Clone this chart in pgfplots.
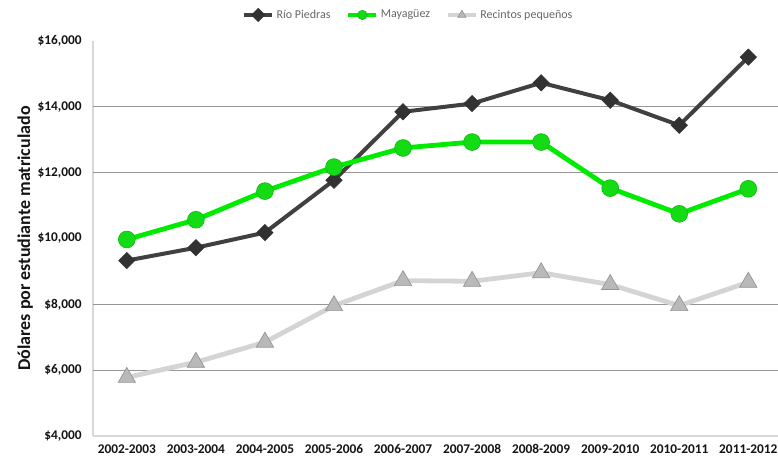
\documentclass[border=0pt]{standalone}
\usepackage{fontspec}
\setmainfont{Carlito}
\usepackage{pgfplots}
\pgfplotsset{compat=1.18}
\usetikzlibrary{calc}
\definecolor{RP}{RGB}{64,64,64}
\definecolor{RPm}{RGB}{50,50,50}
\definecolor{MY}{RGB}{0,235,0}
\definecolor{MYm}{RGB}{20,220,20}
\definecolor{RC}{RGB}{212,212,212}
\definecolor{RCm}{RGB}{185,185,185}
\definecolor{GR}{RGB}{150,150,150}
\definecolor{AX}{RGB}{215,215,215}
\definecolor{TX}{RGB}{20,20,20}

\begin{document}
\begin{tikzpicture}
\begin{axis}[
  scale only axis,
  width=513.75pt, height=296.25pt,
  xmin=-0.49, xmax=9.43,
  ymin=4000, ymax=16000,
  scaled y ticks=false,
  axis x line*=bottom, axis y line*=left,
  axis line style={draw=AX, line width=1.2pt},
  xtick={0,...,9},
  xticklabels={2002-2003,2003-2004,2004-2005,2005-2006,2006-2007,2007-2008,2008-2009,2009-2010,2010-2011,2011-2012},
  x tick style={draw=none},
  x tick label style={font=\bfseries\fontsize{10}{12}\selectfont, color=TX, yshift=-3pt},
  extra x ticks={-0.5,0.5,1.5,2.5,3.5,4.5,5.5,6.5,7.5,8.5},
  extra x tick labels={},
  extra x tick style={tick align=outside, major tick length=5pt, tick style={draw=AX, line width=0.8pt}},
  ytick={4000,6000,8000,10000,12000,14000,16000},
  yticklabels={{\$4,000},{\$6,000},{\$8,000},{\$10,000},{\$12,000},{\$14,000},{\$16,000}},
  y tick style={draw=none},
  y tick label style={font=\bfseries\fontsize{10}{12}\selectfont, color=TX, xshift=-5pt},
  extra y ticks={6000,8000,12000,14000},
  extra y tick labels={},
  extra y tick style={grid=major, tick align=outside, major tick length=3pt, tick style={draw=GR, line width=0.8pt}},
  major grid style={draw=GR, line width=0.8pt},
  ylabel={Dólares por estudiante matriculado},
  ylabel style={font=\bfseries\fontsize{13.5}{15}\selectfont, color=TX, at={(axis description cs:-0.099,0.5)}, anchor=center},
  legend columns=3,
  legend style={draw=none, fill=none, at={(0.461,1.066)}, anchor=center,
    font=\fontsize{9}{11}\selectfont, text=RP!80,
    /tikz/every even column/.append style={column sep=10pt}},
  legend image code/.code={\draw[mark repeat=2, mark phase=2, #1, line width=2.6pt, mark size=3.5pt] plot coordinates {(0cm,0cm)(0.37cm,0cm)(0.74cm,0cm)};},
  clip=false,
]
\addplot[draw=RP, line width=3pt, mark=square*, mark size=4.3pt,
  mark options={fill=RPm, draw=RPm, rotate=45, line width=0.5pt}]
  coordinates {(0,9330)(1,9720)(2,10180)(3,11770)(4,13850)(5,14100)(6,14730)(7,14200)(8,13440)(9,15510)};
\addlegendentry{Río Piedras}
\addplot[draw=MY, line width=3.6pt, mark=*, mark size=6.3pt,
  mark options={fill=MYm, draw=MYm!85!black, line width=0.5pt}]
  coordinates {(0,9970)(1,10570)(2,11440)(3,12170)(4,12750)(5,12930)(6,12930)(7,11530)(8,10750)(9,11510)};
\addlegendentry{Mayagüez}
\addplot[draw=RC, line width=3.6pt, mark=triangle*, mark size=7.5pt,
  mark options={fill=RCm, draw=RCm!80!black, line width=0.5pt}]
  coordinates {(0,5780)(1,6240)(2,6850)(3,7960)(4,8720)(5,8700)(6,8960)(7,8600)(8,7960)(9,8670)};
\addlegendentry{Recintos pequeños}
\coordinate (SW) at (rel axis cs:0,0);
\coordinate (NE) at (rel axis cs:1,1);
\end{axis}
\pgfresetboundingbox
\path[use as bounding box] ($(SW)+(-69.75pt,-18.75pt)$) rectangle ($(NE)+(0pt,30.75pt)$);
\end{tikzpicture}
\end{document}
